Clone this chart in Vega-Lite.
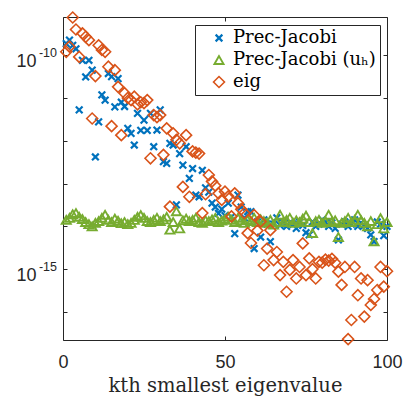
{
  "$schema": "https://vega.github.io/schema/vega-lite/v6.json",
  "width": 324,
  "height": 323,
  "autosize": {"type": "none"},
  "padding": {"left": 63, "top": 17, "right": 19, "bottom": 58},
  "background": "white",
  "config": {
    "view": {"stroke": "#262626", "strokeWidth": 1},
    "axis": {
      "grid": false,
      "domain": false,
      "tickColor": "#262626",
      "tickSize": -4,
      "labelColor": "#262626",
      "labelFont": "Liberation Sans",
      "labelFontSize": 18,
      "titleColor": "#262626",
      "titleFont": "DejaVu Serif",
      "titleFontWeight": "normal",
      "titleFontSize": 19.5
    }
  },
  "data": {"values": [
    {"k":1,"a":1.86e-10,"b":1.41e-14,"c":1.20e-10},
    {"k":2,"a":2.24e-10,"b":1.58e-14,"c":1.58e-10},
    {"k":3,"a":1.70e-10,"b":1.91e-14,"c":7.59e-10},
    {"k":4,"a":1.41e-10,"b":2.04e-14,"c":3.98e-10},
    {"k":5,"a":5.25e-12,"b":1.66e-14,"c":9.12e-11},
    {"k":6,"a":7.59e-11,"b":1.48e-14,"c":3.24e-10},
    {"k":7,"a":3.09e-11,"b":1.26e-14,"c":2.69e-10},
    {"k":8,"a":7.59e-11,"b":1.12e-14,"c":2.24e-10},
    {"k":9,"a":4.47e-11,"b":1.00e-14,"c":3.31e-12},
    {"k":10,"a":4.17e-13,"b":1.20e-14,"c":3.24e-11},
    {"k":11,"a":2.75e-12,"b":1.32e-14,"c":1.70e-10},
    {"k":12,"a":1.18e-11,"b":1.58e-14,"c":1.32e-10},
    {"k":13,"a":8.91e-12,"b":1.86e-14,"c":1.20e-10},
    {"k":14,"a":3.72e-11,"b":1.41e-14,"c":5.37e-11},
    {"k":15,"a":3.16e-11,"b":1.26e-14,"c":2.19e-12},
    {"k":16,"a":6.17e-12,"b":1.51e-14,"c":4.47e-11},
    {"k":17,"a":2.82e-11,"b":1.35e-14,"c":1.82e-11},
    {"k":18,"a":7.94e-12,"b":1.18e-14,"c":1.35e-12},
    {"k":19,"a":6.31e-12,"b":1.26e-14,"c":1.29e-11},
    {"k":20,"a":1.95e-12,"b":1.12e-14,"c":1.00e-11},
    {"k":21,"a":1.48e-12,"b":1.20e-14,"c":8.91e-12},
    {"k":22,"a":7.94e-13,"b":1.41e-14,"c":1.07e-11},
    {"k":23,"a":4.37e-12,"b":1.66e-14,"c":7.08e-12},
    {"k":24,"a":1.74e-12,"b":1.82e-14,"c":7.94e-12},
    {"k":25,"a":3.02e-12,"b":1.58e-14,"c":7.59e-12},
    {"k":26,"a":1.74e-12,"b":1.32e-14,"c":8.91e-12},
    {"k":27,"a":4.37e-12,"b":1.26e-14,"c":3.89e-13},
    {"k":28,"a":7.24e-13,"b":1.41e-14,"c":3.98e-12},
    {"k":29,"a":1.78e-12,"b":1.58e-14,"c":3.55e-12},
    {"k":30,"a":5.25e-12,"b":1.32e-14,"c":3.98e-12},
    {"k":31,"a":3.24e-13,"b":1.45e-14,"c":4.68e-13},
    {"k":32,"a":2.95e-13,"b":1.66e-14,"c":1.95e-12},
    {"k":33,"a":8.71e-13,"b":8.32e-15,"c":2.88e-14},
    {"k":34,"a":7.94e-13,"b":1.26e-14,"c":1.48e-12},
    {"k":35,"a":3.16e-14,"b":2.24e-14,"c":1.05e-12},
    {"k":36,"a":5.01e-13,"b":8.91e-15,"c":8.71e-13},
    {"k":37,"a":2.69e-13,"b":1.38e-14,"c":8.32e-14},
    {"k":38,"a":7.24e-13,"b":1.51e-14,"c":1.35e-12},
    {"k":39,"a":1.32e-13,"b":1.32e-14,"c":4.90e-14},
    {"k":40,"a":2.24e-13,"b":1.41e-14,"c":5.62e-13},
    {"k":41,"a":5.37e-14,"b":1.58e-14,"c":5.25e-13},
    {"k":42,"a":4.90e-14,"b":1.26e-14,"c":5.01e-13},
    {"k":43,"a":2.04e-13,"b":1.20e-14,"c":2.04e-14},
    {"k":44,"a":7.94e-14,"b":1.38e-14,"c":5.62e-14},
    {"k":45,"a":6.31e-14,"b":1.32e-14,"c":1.58e-13},
    {"k":46,"a":3.47e-14,"b":1.45e-14,"c":1.12e-13},
    {"k":47,"a":2.82e-14,"b":1.58e-14,"c":8.91e-14},
    {"k":48,"a":2.00e-14,"b":1.26e-14,"c":5.89e-14},
    {"k":49,"a":2.51e-14,"b":1.35e-14,"c":4.17e-14},
    {"k":50,"a":1.78e-14,"b":1.48e-14,"c":6.46e-14},
    {"k":51,"a":3.47e-14,"b":1.66e-14,"c":5.01e-14},
    {"k":52,"a":1.66e-14,"b":1.41e-14,"c":1.70e-14},
    {"k":53,"a":6.76e-15,"b":1.26e-14,"c":5.89e-14},
    {"k":54,"a":5.37e-14,"b":1.58e-14,"c":3.47e-14},
    {"k":55,"a":2.82e-14,"b":1.38e-14,"c":2.51e-14},
    {"k":56,"a":1.58e-14,"b":1.20e-14,"c":2.04e-14},
    {"k":57,"a":2.19e-14,"b":1.41e-14,"c":6.92e-15},
    {"k":58,"a":2.19e-14,"b":1.32e-14,"c":4.07e-15},
    {"k":59,"a":3.02e-15,"b":1.58e-14,"c":1.82e-14},
    {"k":60,"a":1.26e-14,"b":1.26e-14,"c":7.94e-15},
    {"k":61,"a":5.62e-15,"b":1.45e-14,"c":1.29e-14},
    {"k":62,"a":1.41e-14,"b":1.32e-14,"c":1.23e-15},
    {"k":63,"a":1.12e-14,"b":1.20e-14,"c":3.02e-15},
    {"k":64,"a":4.37e-15,"b":1.41e-14,"c":8.13e-15},
    {"k":65,"a":1.12e-14,"b":1.10e-14,"c":1.62e-15},
    {"k":66,"a":1.58e-14,"b":1.26e-14,"c":2.51e-15},
    {"k":67,"a":1.05e-14,"b":1.86e-14,"c":7.24e-16},
    {"k":68,"a":1.26e-14,"b":1.26e-14,"c":1.48e-15},
    {"k":69,"a":1.00e-14,"b":1.41e-14,"c":2.95e-16},
    {"k":70,"a":1.20e-14,"b":1.58e-14,"c":9.55e-16},
    {"k":71,"a":1.12e-14,"b":1.20e-14,"c":1.62e-15},
    {"k":72,"a":8.91e-15,"b":1.38e-14,"c":6.03e-16},
    {"k":73,"a":1.26e-14,"b":1.26e-14,"c":1.12e-15},
    {"k":74,"a":1.05e-14,"b":1.51e-14,"c":3.98e-15},
    {"k":75,"a":7.08e-15,"b":1.78e-14,"c":7.24e-16},
    {"k":76,"a":6.31e-15,"b":1.26e-14,"c":1.78e-15},
    {"k":77,"a":1.26e-14,"b":6.92e-15,"c":1.00e-15},
    {"k":78,"a":1.00e-14,"b":1.32e-14,"c":6.03e-16},
    {"k":79,"a":1.12e-14,"b":1.41e-14,"c":1.48e-15},
    {"k":80,"a":1.41e-14,"b":1.20e-14,"c":1.41e-15},
    {"k":81,"a":1.26e-14,"b":1.32e-14,"c":1.66e-15},
    {"k":82,"a":1.00e-14,"b":1.86e-14,"c":1.58e-15},
    {"k":83,"a":1.20e-14,"b":1.26e-14,"c":1.74e-15},
    {"k":84,"a":8.91e-15,"b":1.38e-14,"c":1.41e-15},
    {"k":85,"a":4.79e-15,"b":5.62e-15,"c":8.71e-16},
    {"k":86,"a":1.12e-14,"b":1.20e-14,"c":4.27e-16},
    {"k":87,"a":1.26e-14,"b":1.32e-14,"c":1.12e-15},
    {"k":88,"a":1.00e-14,"b":1.58e-14,"c":2.30e-17},
    {"k":89,"a":1.12e-14,"b":1.26e-14,"c":6.46e-17},
    {"k":90,"a":1.41e-14,"b":1.41e-14,"c":1.12e-15},
    {"k":91,"a":1.00e-14,"b":1.86e-14,"c":2.45e-16},
    {"k":92,"a":1.20e-14,"b":1.38e-14,"c":6.03e-16},
    {"k":93,"a":1.05e-14,"b":1.20e-14,"c":7.76e-17},
    {"k":94,"a":8.91e-15,"b":1.00e-14,"c":5.50e-16},
    {"k":95,"a":6.31e-15,"b":1.32e-14,"c":1.45e-16},
    {"k":96,"a":4.37e-15,"b":4.47e-15,"c":2.00e-16},
    {"k":97,"a":1.26e-14,"b":1.12e-14,"c":3.24e-16},
    {"k":98,"a":1.12e-14,"b":1.55e-14,"c":1.12e-15},
    {"k":99,"a":6.03e-15,"b":8.91e-15,"c":3.89e-16},
    {"k":100,"a":1.00e-14,"b":1.26e-14,"c":8.91e-16}
  ]},
  "layer": [
    {
      "transform": [{"fold": ["a", "b", "c"], "as": ["s", "v"]}],
      "mark": {"type": "point", "filled": false, "opacity": 1},
      "encoding": {
        "x": {
          "field": "k", "type": "quantitative",
          "scale": {"domain": [0, 100], "nice": false, "zero": false},
          "axis": {"orient": "bottom", "values": [0, 50, 100], "labelFlush": false, "labelPadding": 17, "title": "kth smallest eigenvalue", "titlePadding": 5}
        },
        "y": {
          "field": "v", "type": "quantitative",
          "scale": {"type": "log", "domain": [2.2e-17, 7.8e-10], "nice": false},
          "axis": {"orient": "left", "title": null, "values": [1e-16, 1e-15, 1e-14, 1e-13, 1e-12, 1e-11, 1e-10],
                   "labelPadding": 31, "labelOffset": 6,
                   "labelExpr": "round(log(datum.value)/LN10) == -10 || round(log(datum.value)/LN10) == -15 ? '10' : ''"}
        },
        "color": {
          "field": "s", "type": "nominal",
          "scale": {"domain": ["a", "b", "c"], "range": ["#0072BD", "#77AC30", "#D95319"]},
          "legend": {
            "title": null,
            "orient": "none",
            "legendX": 132,
            "legendY": 8,
            "direction": "vertical",
            "fillColor": "white",
            "strokeColor": "#262626",
            "padding": 4,
            "symbolOffset": 11,
            "labelOffset": 5,
            "rowPadding": 4,
            "symbolSize": 90,
            "symbolStrokeWidth": 2,
            "labelFont": "DejaVu Serif",
            "labelFontSize": 18,
            "labelColor": "#000000",
            "labelLimit": 300,
            "labelExpr": "datum.label == 'a' ? 'Prec-Jacobi' : datum.label == 'b' ? 'Prec-Jacobi (uₕ)' : 'eig'"
          }
        },
        "shape": {
          "field": "s", "type": "nominal",
          "scale": {"domain": ["a", "b", "c"], "range": ["M-1,-1L1,1M-1,1L1,-1", "triangle-up", "diamond"]}
        },
        "size": {
          "field": "s", "type": "nominal",
          "scale": {"domain": ["a", "b", "c"], "range": [45, 120, 100]},
          "legend": null
        },
        "strokeWidth": {
          "field": "s", "type": "nominal",
          "scale": {"domain": ["a", "b", "c"], "range": [2.2, 1.6, 1.6]},
          "legend": null
        },
        "order": {"field": "s"}
      }
    },
    {
      "mark": {"type": "point", "opacity": 0},
      "encoding": {
        "x": {"field": "k", "type": "quantitative", "axis": {"orient": "top", "values": [0, 50, 100], "labels": false, "title": null}},
        "y": {"field": "c", "type": "quantitative", "axis": {"orient": "right", "values": [1e-16, 1e-15, 1e-14, 1e-13, 1e-12, 1e-11, 1e-10], "labels": false, "title": null}}
      }
    },
    {
      "data": {"values": [{"k": 0, "c": 1e-10, "e": "-10"}, {"k": 0, "c": 1e-15, "e": "-15"}]},
      "mark": {"type": "text", "align": "right", "baseline": "alphabetic", "dx": -6, "dy": 2, "font": "Liberation Sans", "fontSize": 12.5, "color": "#262626"},
      "encoding": {
        "x": {"field": "k", "type": "quantitative", "axis": null},
        "y": {"field": "c", "type": "quantitative", "axis": null},
        "text": {"field": "e"}
      }
    }
  ],
  "resolve": {"axis": {"x": "independent", "y": "independent"}}
}
